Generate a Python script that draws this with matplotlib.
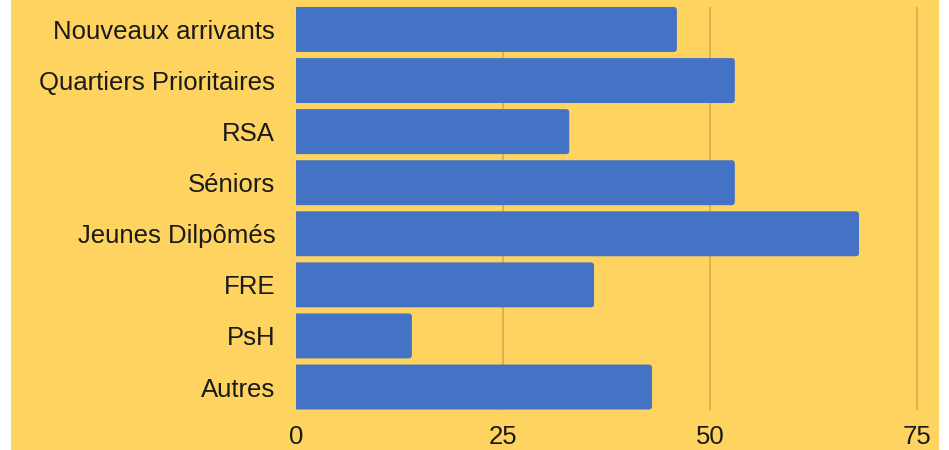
import matplotlib.pyplot as plt
from matplotlib.patches import FancyBboxPatch, Rectangle

categories = ["Nouveaux arrivants", "Quartiers Prioritaires", "RSA", "Séniors",
              "Jeunes Dilpômés", "FRE", "PsH", "Autres"]
values = [46, 53, 33, 53, 68, 36, 14, 43]
ticks = [0, 25, 50, 75]

yellow = "#FFD35F"
blue = "#4472C4"
grid_col = "#D1AE4E"

plt.rcParams['font.family'] = ['Liberation Sans', 'DejaVu Sans']

W, H = 949, 450
fig = plt.figure(figsize=(W / 100, H / 100), dpi=100)
fig.patch.set_facecolor("white")
# yellow card behind the chart
fig.patches.append(Rectangle((11 / W, 0), (939 - 11) / W, 1, transform=fig.transFigure,
                             facecolor=yellow, edgecolor="none", zorder=-5))

left, right = 296, 939
bottom, top = 410, 7
ax = fig.add_axes([left / W, 1 - bottom / H, (right - left) / W, (bottom - top) / H])
ax.set_facecolor("none")
ax.set_zorder(2)

px_per_unit = (917 - 296) / 75
ax.set_xlim(0, (right - left) / px_per_unit)
ax.set_ylim(7.45, -0.44)

bars = ax.barh(range(len(categories)), values, height=0.88, color=blue)
# rounded right ends
for b in bars:
    x0, y0 = b.get_x(), b.get_y()
    w, h = b.get_width(), b.get_height()
    b.remove()
    p = FancyBboxPatch((x0 - 1, y0), w + 1, h,
                       boxstyle="round,pad=0,rounding_size=0.4",
                       mutation_aspect=px_per_unit / 51,
                       facecolor=blue, edgecolor="none", zorder=3)
    ax.add_patch(p)

for t in ticks[1:]:
    ax.axvline(t, color=grid_col, lw=1.2, zorder=1)

ax.set_xticks(ticks)
ax.set_xticklabels([str(t) for t in ticks], fontsize=18.5, color="#1a1a1a")
ax.set_yticks(range(len(categories)))
ax.set_yticklabels(categories, fontsize=18.5, color="#1a1a1a")
ax.tick_params(axis="y", length=0, pad=15)
ax.tick_params(axis="x", length=0, pad=11)
for s in ax.spines.values():
    s.set_visible(False)

fig.savefig("out.png", dpi=100, facecolor=fig.get_facecolor())
